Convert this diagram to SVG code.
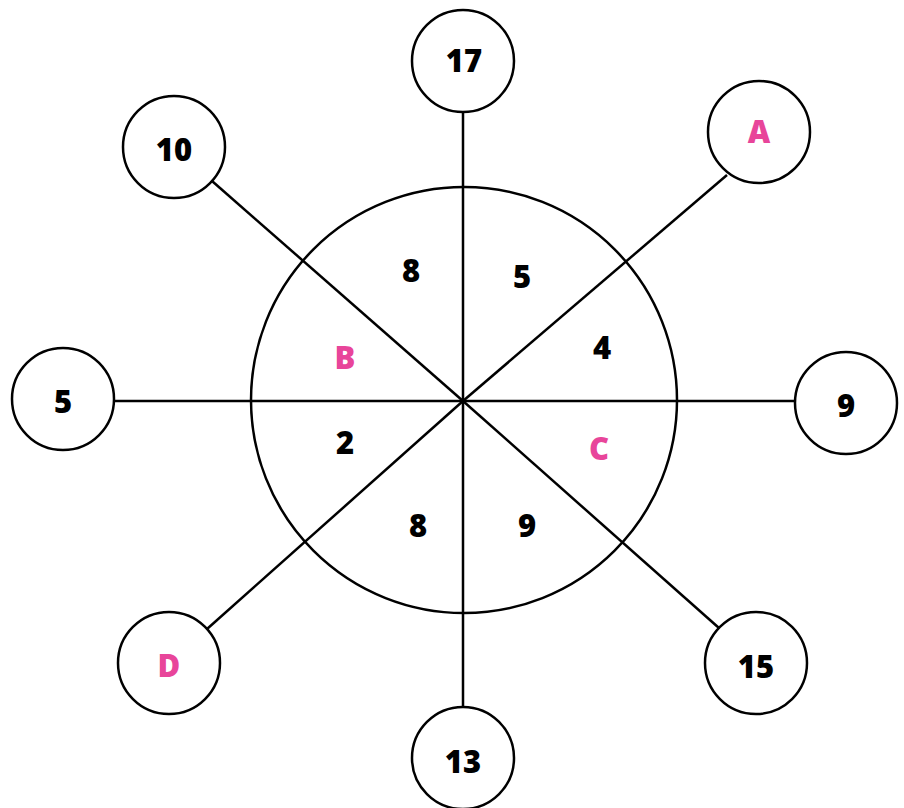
<svg xmlns="http://www.w3.org/2000/svg" width="904" height="808" viewBox="0 0 904 808">
<style>
.c{fill:#fff;stroke:#000;stroke-width:2.5}
.l{stroke:#000;stroke-width:2.5;fill:none}
text{font-family:"Noto Sans","Open Sans",sans-serif;font-weight:900;font-size:31px;text-anchor:middle}
.p{fill:#E8459A}
.k{fill:#000}
</style>
<rect width="904" height="808" fill="#fff"/>
<g id="connectors">
<line class="l" x1="463" y1="401" x2="463" y2="112"/>
<line class="l" x1="463" y1="401" x2="463" y2="707"/>
<line class="l" x1="463" y1="401" x2="114" y2="401"/>
<line class="l" x1="463" y1="401" x2="795" y2="401"/>
<line class="l" x1="463" y1="401" x2="212" y2="181"/>
<line class="l" x1="463" y1="401" x2="727" y2="175"/>
<line class="l" x1="463" y1="401" x2="207" y2="629"/>
<line class="l" x1="463" y1="401" x2="719" y2="628"/>
</g>
<g id="wheel">
<circle cx="464" cy="400" r="213" fill="none" stroke="#000" stroke-width="2.5"/>
<text class="k" x="411" y="282">8</text>
<text class="k" x="522" y="288">5</text>
<text class="k" x="602" y="359">4</text>
<text class="p" x="345" y="369">B</text>
<text class="k" x="345" y="454">2</text>
<text class="p" x="599" y="460">C</text>
<text class="k" x="418" y="537">8</text>
<text class="k" x="527" y="537">9</text>
</g>
<g id="n17"><circle class="c" cx="463" cy="61" r="51"/><text class="k" x="464" y="72">17</text></g>
<g id="n10"><circle class="c" cx="174" cy="147" r="51"/><text class="k" x="174" y="161">10</text></g>
<g id="nA"><circle class="c" cx="759" cy="132" r="51"/><text class="p" x="759" y="143">A</text></g>
<g id="n5"><circle class="c" cx="63" cy="399" r="51"/><text class="k" x="63" y="413">5</text></g>
<g id="n9"><circle class="c" cx="846" cy="403" r="51"/><text class="k" x="846" y="417">9</text></g>
<g id="nD"><circle class="c" cx="169" cy="663" r="51"/><text class="p" x="169" y="677">D</text></g>
<g id="n13"><circle class="c" cx="463" cy="758" r="51"/><text class="k" x="463" y="773">13</text></g>
<g id="n15"><circle class="c" cx="756" cy="663" r="51"/><text class="k" x="756" y="678">15</text></g>
</svg>
